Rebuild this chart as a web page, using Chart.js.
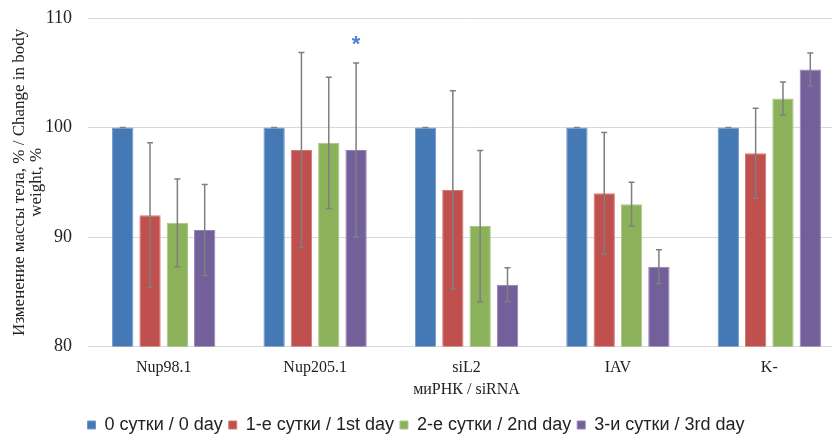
<!DOCTYPE html>
<html>
<head>
<meta charset="utf-8">
<script src="https://cdn.jsdelivr.net/npm/chart.js@4.4.1/dist/chart.umd.min.js"></script>
<style>
  html, body { margin: 0; padding: 0; background: #fff; overflow: hidden; }
  #wrap { position: absolute; left: 0; top: 0; width: 846px; height: 444px; }
</style>
</head>
<body>
<div id="wrap"><canvas id="c" width="846" height="444"></canvas></div>
<script>
const categories = ['Nup98.1', 'Nup205.1', 'siL2', 'IAV', 'K-'];
const seriesNames = ['0 сутки / 0 day', '1-е сутки / 1st day', '2-е сутки / 2nd day', '3-и сутки / 3rd day'];
const day0 = [100, 100, 100, 100, 100];
const day1 = [92.0, 97.95, 94.3, 94.0, 97.65];
const day2 = [91.3, 98.6, 91.0, 93.0, 102.65];
const day3 = [90.65, 97.95, 85.65, 87.3, 105.3];
const err0 = [0, 0, 0, 0, 0];
const err1 = [6.6, 8.9, 9.05, 5.55, 4.1];
const err2 = [4.0, 6.0, 6.9, 2.0, 1.5];
const err3 = [4.15, 7.95, 1.55, 1.55, 1.5];
const yTicks = [80, 90, 100, 110];
const starMark = { category: 'Nup205.1', series: 3, value: 107.7, text: '*' };

const colors = ['#4479B5', '#C0504D', '#8BB25A', '#735F9A'];
const borders = ['#6E97C8', '#D27A77', '#A8C882', '#9482B4'];
const values = [day0, day1, day2, day3];
const errors = [err0, err1, err2, err3];

const errorBarPlugin = {
  id: 'errorBars',
  afterDatasetsDraw(chart) {
    const ctx = chart.ctx;
    const y = chart.scales.y;
    ctx.save();
    ctx.strokeStyle = '#7F7F7F';
    ctx.lineWidth = 1.5;
    chart.data.datasets.forEach((ds, i) => {
      const meta = chart.getDatasetMeta(i);
      meta.data.forEach((bar, j) => {
        const v = ds.data[j];
        const e = errors[i][j];
        const yTop = y.getPixelForValue(v + e);
        const yBot = y.getPixelForValue(v - e);
        const x = bar.x;
        ctx.beginPath();
        ctx.moveTo(x, yTop); ctx.lineTo(x, yBot);
        ctx.moveTo(x - 3, yTop); ctx.lineTo(x + 3, yTop);
        ctx.moveTo(x - 3, yBot); ctx.lineTo(x + 3, yBot);
        ctx.stroke();
      });
    });
    // significance star
    const meta = chart.getDatasetMeta(starMark.series);
    const idx = categories.indexOf(starMark.category);
    const bx = meta.data[idx].x;
    ctx.fillStyle = '#4F81D0';
    ctx.font = 'bold 22px "Liberation Sans", Arial, sans-serif';
    ctx.textAlign = 'center';
    ctx.textBaseline = 'middle';
    ctx.fillText(starMark.text, bx, y.getPixelForValue(starMark.value) + 2);
    ctx.restore();
  }
};

const legendShift = {
  id: 'legendShift',
  beforeDraw(chart) {
    const l = chart.legend;
    if (l) { l.left = 0; l.right = 832; }
  }
};

new Chart(document.getElementById('c'), {
  type: 'bar',
  data: {
    labels: categories,
    datasets: values.map((arr, i) => ({
      label: seriesNames[i],
      data: arr,
      backgroundColor: colors[i],
      borderColor: borders[i],
      borderWidth: 1,
      categoryPercentage: 0.722,
      barPercentage: 0.78
    }))
  },
  options: {
    responsive: false,
    animation: false,
    layout: { padding: { top: 18, right: 1, left: 0, bottom: 0 } },
    plugins: {
      legend: {
        position: 'bottom',
        labels: {
          boxWidth: 8, boxHeight: 8, padding: 6,
          color: '#222',
          font: { family: '"Liberation Sans", Arial, sans-serif', size: 18 }
        }
      },
      tooltip: { enabled: false }
    },
    scales: {
      x: {
        grid: { display: false, drawTicks: false },
        border: { display: false },
        ticks: {
          color: '#222', padding: 12,
          font: { family: '"Liberation Serif", "Times New Roman", serif', size: 16 }
        },
        title: {
          display: true, text: 'миРНК / siRNA', color: '#222',
          padding: { top: -10, bottom: 11 },
          font: { family: '"Liberation Serif", "Times New Roman", serif', size: 16 }
        }
      },
      y: {
        min: 80, max: 110,
        afterFit(scale) { scale.width = 88; scale.paddingTop = 0; scale.paddingBottom = 0; },
        afterBuildTicks(scale) { scale.ticks = yTicks.map(v => ({ value: v })); },
        grid: { color: '#D9D9D9', lineWidth: 1, drawTicks: false },
        border: { display: false },
        ticks: {
          color: '#222', padding: 16,
          font: { family: '"Liberation Serif", "Times New Roman", serif', size: 18 }
        },
        title: {
          display: true,
          text: ['Изменение массы тела, % / Change in body', 'weight, %'],
          color: '#222',
          padding: { top: 11, bottom: 0 },
          font: { family: '"Liberation Serif", "Times New Roman", serif', size: 17, lineHeight: 1.0 }
        }
      }
    }
  },
  plugins: [errorBarPlugin, legendShift]
});
</script>
</body>
</html>
